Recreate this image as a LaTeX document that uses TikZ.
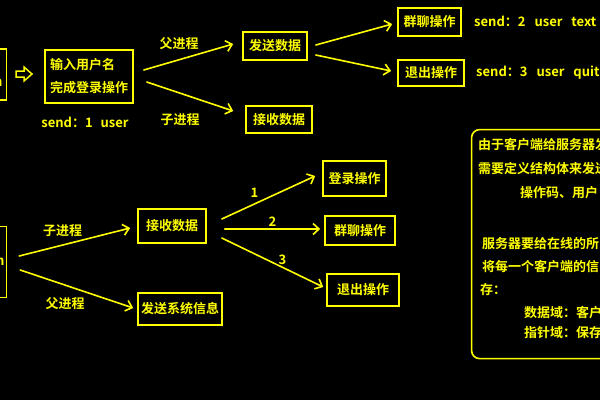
\documentclass[tikz,border=0pt]{standalone}
\usepackage{fontspec}
\newfontfamily\yfont{Noto Sans CJK SC}[UprightFont=* Bold]
\usetikzlibrary{arrows.meta}
\definecolor{hl}{RGB}{255,255,0}

\begin{document}
\begin{tikzpicture}[x=1pt, y=-1pt, >={Straight Barb[length=6pt,width=11pt]},
    box/.style={draw=hl, line width=1.6pt, text=hl, inner sep=0pt, align=center,
      font=\yfont\fontsize{13}{23}\selectfont},
    lbl/.style={text=hl, inner sep=0pt, font=\yfont\fontsize{13}{23}\selectfont},
    arr/.style={->, draw=hl, line width=1.6pt, line cap=round}]
  % 背景
  \fill[black] (0,0) rectangle (600,400);
  \clip (0,0) rectangle (600,400);
  % 客户端：登录
  \node[box, anchor=east, minimum width=40, minimum height=51, text width=32, align=right,
    inner xsep=4] (cli) at (7.2,74.5) {\mbox{}\\n};
  \draw[hl, line width=1.5pt, line join=miter]
    (16,71) -- (24,71) -- (24,67) -- (32,74) -- (24,81) -- (24,77) -- (16,77) -- cycle;
  \node[box, minimum width=88, minimum height=53, align=left] (login) at (89,76.5)
    {输入用户名\\完成登录操作};
  \node[lbl] (s1) at (85,122) {send：1\hspace{8pt}user};
  \node[box, minimum width=64, minimum height=28] (send) at (275,46) {发送数据};
  \node[box, minimum width=66, minimum height=27] (recv) at (279,119.5) {接收数据};
  \draw[arr] ([xshift=10pt,yshift=6.5pt]login.east) -- ([xshift=-9pt,yshift=2pt]send.west);
  \draw[arr] ([xshift=13pt,yshift=-5.5pt]login.east) -- ([xshift=-12pt,yshift=8.5pt]recv.west);
  \node[lbl] (fa1) at (179,43.5) {父进程};
  \node[lbl] (zi1) at (180,119.5) {子进程};
  % 发送数据的两种操作
  \node[box, minimum width=63, minimum height=28] (chat) at (429.5,22) {群聊操作};
  \node[box, minimum width=66, minimum height=26] (quit) at (431,73) {退出操作};
  \draw[arr] ([xshift=8pt,yshift=1pt]send.east) -- ([xshift=-5pt,yshift=-2pt]chat.west);
  \draw[arr] ([xshift=8pt,yshift=-9pt]send.east) -- ([xshift=-6pt,yshift=2pt]quit.west);
  \node[lbl, anchor=west] (s2) at (474,21) {send：2\hspace{9pt}user\hspace{9pt}text};
  \node[lbl, anchor=west] (s3) at (476,72.5) {send：3\hspace{9pt}user\hspace{9pt}quit};
  % 服务器
  \node[box, anchor=east, minimum width=40, minimum height=71, text width=36, align=right,
    inner xsep=2] (srv) at (7.2,262) {n};
  \node[box, minimum width=68, minimum height=34] (rx) at (172,226) {接收数据};
  \node[box, minimum width=84, minimum height=32] (sys) at (180,309) {发送系统信息};
  \draw[arr] ([xshift=12pt,yshift=6pt]srv.east) -- ([xshift=-7pt,yshift=-2pt]rx.west);
  \draw[arr] ([xshift=13pt,yshift=-8pt]srv.east) -- ([xshift=-4pt,yshift=1pt]sys.west);
  \node[lbl] (zi2) at (62.5,231) {子进程};
  \node[lbl] (fa2) at (65,303.5) {父进程};
  % 接收数据后的三种操作
  \node[box, minimum width=63, minimum height=35] (log2) at (354.5,178.5) {登录操作};
  \node[box, minimum width=70, minimum height=29] (chat2) at (360,230.5) {群聊操作};
  \node[box, minimum width=72, minimum height=32] (quit2) at (363,290) {退出操作};
  \draw[arr] ([xshift=15pt,yshift=7pt]rx.east) -- ([xshift=-7pt,yshift=2.5pt]log2.west);
  \draw[arr] ([xshift=18pt,yshift=-3pt]rx.east) -- ([xshift=-4pt,yshift=1.5pt]chat2.west);
  \draw[arr] ([xshift=15pt,yshift=-12pt]rx.east) -- ([xshift=-3pt,yshift=3pt]quit2.west);
  \node[lbl] (n1) at (254.5,193) {1};
  \node[lbl] (n2) at (272.5,222) {2};
  \node[lbl] (n3) at (282.5,260) {3};
  % 说明框
  \node[draw=hl, line width=1.6pt, rounded corners=8pt, anchor=north west,
    minimum width=170, minimum height=229] (note) at (470.8,128.8) {};
  \node[lbl, anchor=west] (t1) at (478,145) {由于客户端给服务器发};
  \node[lbl, anchor=west] (t2) at (478,169) {需要定义结构体来发送};
  \node[lbl, anchor=west] (t3) at (520,193) {操作码、用户};
  \node[lbl, anchor=west] (t4) at (482,244) {服务器要给在线的所};
  \node[lbl, anchor=west] (t5) at (482,267) {将每一个客户端的信};
  \node[lbl, anchor=west] (t6) at (480,290) {存：};
  \node[lbl, anchor=west] (t7) at (524,313) {数据域：客户};
  \node[lbl, anchor=west] (t8) at (524,333) {指针域：保存};
\end{tikzpicture}
\end{document}
